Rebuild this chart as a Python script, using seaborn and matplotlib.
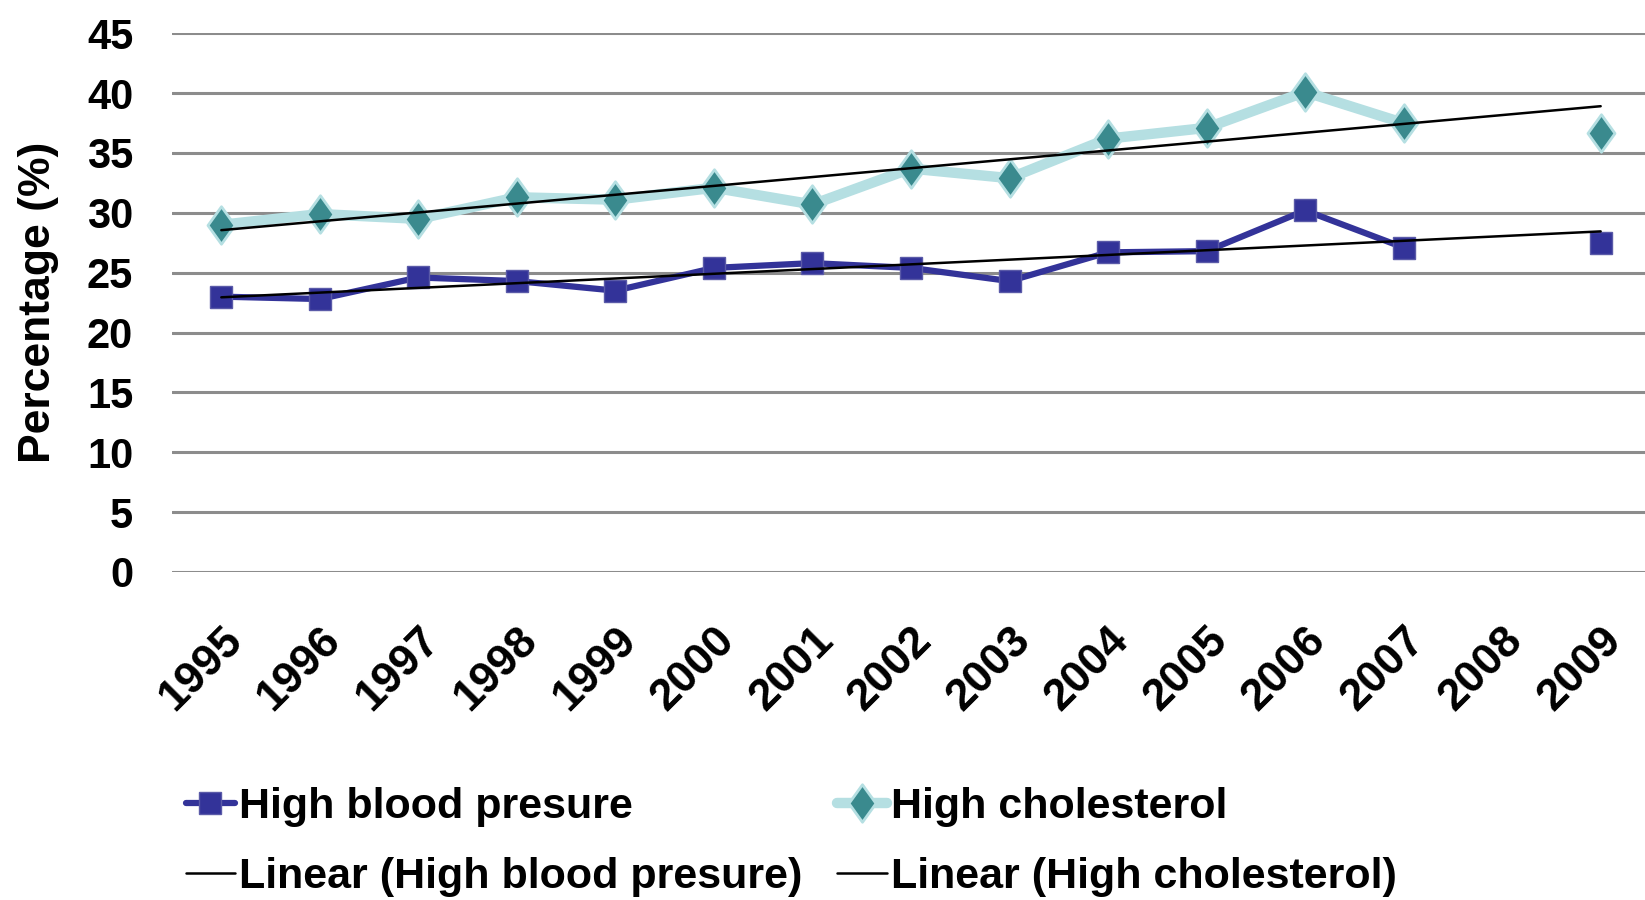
import numpy as np
import pandas as pd
import seaborn as sns
import matplotlib
matplotlib.use("Agg")
import matplotlib.pyplot as plt
from matplotlib.path import Path

# ---------------------------------------------------------------------------
# Data (2008 has no survey value)
# ---------------------------------------------------------------------------
YEARS = ["1995", "1996", "1997", "1998", "1999", "2000", "2001", "2002",
         "2003", "2004", "2005", "2006", "2007", "2008", "2009"]
HIGH_BP = [23.0, 22.8, 24.6, 24.3, 23.5, 25.4, 25.8, 25.4,
           24.3, 26.7, 26.8, 30.2, 27.1, np.nan, 27.5]
HIGH_CHOL = [29.0, 29.9, 29.5, 31.3, 31.1, 32.1, 30.7, 33.7,
             32.9, 36.2, 37.1, 40.1, 37.5, np.nan, 36.7]
SERIES = ["High blood presure", "High cholesterol"]

BP_COLOR = "#333399"
CHOL_LINE = "#b5dfe2"
CHOL_MARK = "#3a8a8e"
GRID_COLOR = "#8c8c8c"

# long-form frame; 'seg' splits each series at the missing year so the line breaks
rows = []
for name, vals in zip(SERIES, [HIGH_BP, HIGH_CHOL]):
    seg = 0
    for i, v in enumerate(vals):
        if np.isnan(v):
            seg += 1
            continue
        rows.append({"x": i, "value": v, "series": name, "seg": seg})
df = pd.DataFrame(rows)

sns.set_theme(style="white")
plt.rcParams["font.family"] = ["Liberation Sans", "DejaVu Sans"]
plt.rcParams["font.weight"] = "bold"
plt.rcParams["text.color"] = "black"
plt.rcParams["axes.labelcolor"] = "black"
plt.rcParams["xtick.color"] = "black"
plt.rcParams["ytick.color"] = "black"

fig, ax = plt.subplots(figsize=(16.45, 9.0), dpi=100)
fig.subplots_adjust(left=0.1046, right=1.0, top=0.963, bottom=0.3645)

# taller-than-wide diamond like the Excel marker
diamond = Path([(0, 1), (0.72, 0), (0, -1), (-0.72, 0), (0, 1)],
               [Path.MOVETO, Path.LINETO, Path.LINETO, Path.LINETO, Path.CLOSEPOLY])

bp = df[df.series == SERIES[0]]
ch = df[df.series == SERIES[1]]

sns.lineplot(data=bp, x="x", y="value", units="seg", estimator=None,
             color=BP_COLOR, linewidth=4.5, marker="s", markersize=16,
             markeredgecolor="#5a5aa8", markeredgewidth=1, ax=ax, zorder=4)
sns.lineplot(data=ch, x="x", y="value", units="seg", estimator=None,
             color=CHOL_LINE, linewidth=7.5, marker=diamond, markersize=27,
             markerfacecolor=CHOL_MARK, markeredgecolor=CHOL_LINE,
             markeredgewidth=2, ax=ax, zorder=3)

# linear trend lines (least squares over available years, Excel style)
trend_handles = []
for sub in [bp, ch]:
    k, b = np.polyfit(sub["x"], sub["value"], 1)
    xs = np.array([0, len(YEARS) - 1])
    ln, = ax.plot(xs, k * xs + b, color="black", linewidth=1.8, zorder=5)
    trend_handles.append(ln)

ax.set_xlim(-0.5, len(YEARS) - 0.55)
ax.set_ylim(0, 45)
ax.set_yticks(range(0, 46, 5))
ax.set_xticks(range(len(YEARS)))
ax.set_xticklabels(YEARS, rotation=45, ha="right", va="top",
                   rotation_mode="anchor")
ax.tick_params(axis="y", length=0, pad=28, labelsize=30)
ax.tick_params(axis="x", length=0, pad=34, labelsize=32)
for lab in ax.get_xticklabels():
    lab.set_fontweight("bold")
for lab in ax.get_yticklabels():
    lab.set_fontweight("bold")

ax.yaxis.grid(True, color=GRID_COLOR, linewidth=2.2)
ax.xaxis.grid(False)
ax.set_axisbelow(True)
for s in ax.spines.values():
    s.set_visible(False)

ax.set_xlabel("")
ax.set_ylabel("Percentage (%)", fontsize=32, fontweight="bold", labelpad=20)

# legend: two columns, series on the top row, trend lines below
bp_h = plt.Line2D([], [], color=BP_COLOR, linewidth=4.5, marker="s",
                  markersize=16, markeredgecolor="#5a5aa8")
ch_h = plt.Line2D([], [], color=CHOL_LINE, linewidth=7.5, marker=diamond,
                  markersize=27, markerfacecolor=CHOL_MARK,
                  markeredgecolor=CHOL_LINE, markeredgewidth=2)
handles = [bp_h, trend_handles[0], ch_h, trend_handles[1]]
labels = [SERIES[0], "Linear (High blood presure)",
          SERIES[1], "Linear (High cholesterol)"]
fig.legend(handles, labels, ncol=2, loc="lower left",
           bbox_to_anchor=(0.0945, -0.03), frameon=False,
           prop={"size": 31, "weight": "bold"},
           handlelength=1.15, handletextpad=0.1, columnspacing=0.8,
           labelspacing=0.7, borderpad=0.2)

fig.savefig("out.png", dpi=100)
